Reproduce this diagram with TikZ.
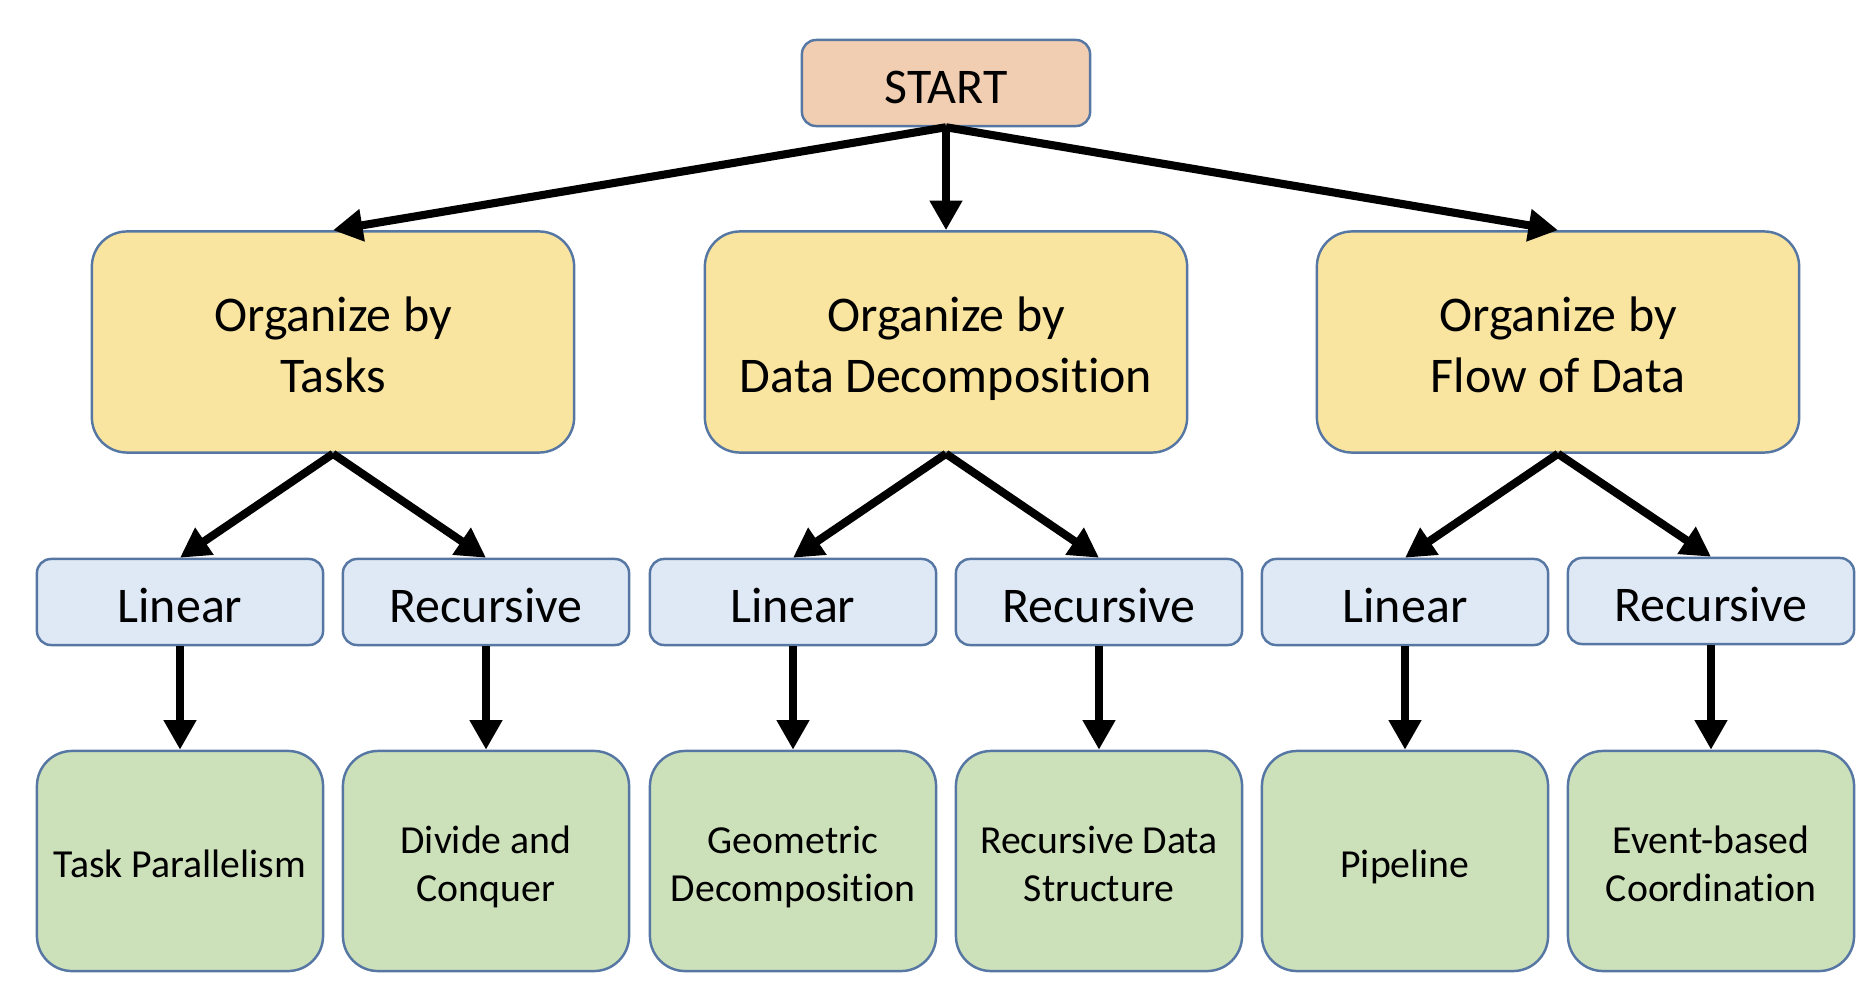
\documentclass[tikz,border=0pt]{standalone}
\usepackage{fontspec}
\setmainfont{Carlito}[Ligatures=NoCommon]
\usetikzlibrary{arrows.meta}

\definecolor{startfill}{HTML}{F1CEB1}
\definecolor{orgfill}{HTML}{FAE5A0}
\definecolor{kindfill}{HTML}{DEE9F5}
\definecolor{patfill}{HTML}{CCE0BA}
\definecolor{boxline}{HTML}{5677A3}

\begin{document}
\begin{tikzpicture}[x=0.01cm, y=-0.01cm,
	box/.style={draw=boxline, line width=0.7pt, align=flush center, inner sep=0pt},
	bigtext/.style={font=\fontsize{14.2}{17.3}\selectfont, execute at begin node=\rule{0pt}{14.6pt}, execute at end node=\rule[-3pt]{0pt}{3pt}},
	smalltext/.style={font=\fontsize{11.3}{13.7}\selectfont, execute at begin node=\rule{0pt}{11.9pt}, execute at end node=\rule[-2.5pt]{0pt}{2.5pt}},
	startbox/.style={box, bigtext, fill=startfill, rounded corners=4pt, text width=2.7cm, minimum width=2.88cm, minimum height=0.86cm},
	orgbox/.style={box, bigtext, fill=orgfill, rounded corners=10pt, text width=4.6cm, minimum width=4.82cm, minimum height=2.21cm},
	kindbox/.style={box, bigtext, fill=kindfill, rounded corners=4pt, text width=2.7cm, minimum width=2.86cm, minimum height=0.86cm},
	patbox/.style={box, smalltext, fill=patfill, rounded corners=10pt, text width=2.75cm, minimum width=2.86cm, minimum height=2.2cm},
	arr/.style={line width=2.3pt, -{Triangle[length=8.4pt, width=8.8pt]}}]
			\useasboundingbox (0,0) rectangle (1876,988);
			
			\node(start) [startbox] at (946,83){START};
			
			\node(tasks) [orgbox] at (333,342){Organize by\\Tasks};
			\node(data) [orgbox] at (946,342){Organize by\\Data Decomposition};
			\node(flow) [orgbox] at (1558,342){Organize by\\Flow of Data};
			
			\node(tlin) [kindbox] at (180,602){Linear};
			\node(trec) [kindbox] at (486,602){Recursive};
			\node(dlin) [kindbox] at (793,602){Linear};
			\node(drec) [kindbox] at (1099,602){Recursive};
			\node(flin) [kindbox] at (1405,602){Linear};
			\node(frec) [kindbox] at (1711,601){Recursive};
			
			\node(taskpar) [patbox] at (180,861){Task Parallelism};
			\node(divcon) [patbox] at (486,861){Divide and\\Conquer};
			\node(geodec) [patbox] at (793,861){Geometric\\Decomposition};
			\node(recdata) [patbox] at (1099,861){Recursive Data\\Structure};
			\node(pipe) [patbox] at (1405,861){Pipeline};
			\node(event) [patbox] at (1711,861){Event-based\\Coordination};
			
			\draw[arr] (start.south) -- (tasks.north);
			\draw[arr] (start.south) -- (data.north);
			\draw[arr] (start.south) -- (flow.north);
			
			\draw[arr] (tasks.south) -- (tlin.north);
			\draw[arr] (tasks.south) -- (trec.north);
			\draw[arr] (data.south) -- (dlin.north);
			\draw[arr] (data.south) -- (drec.north);
			\draw[arr] (flow.south) -- (flin.north);
			\draw[arr] (flow.south) -- (frec.north);
			
			\draw[arr] (tlin) -- (taskpar);
			\draw[arr] (trec) -- (divcon);
			\draw[arr] (dlin) -- (geodec);
			\draw[arr] (drec) -- (recdata);
			\draw[arr] (flin) -- (pipe);
			\draw[arr] (frec) -- (event);
			
		\end{tikzpicture}
\end{document}
